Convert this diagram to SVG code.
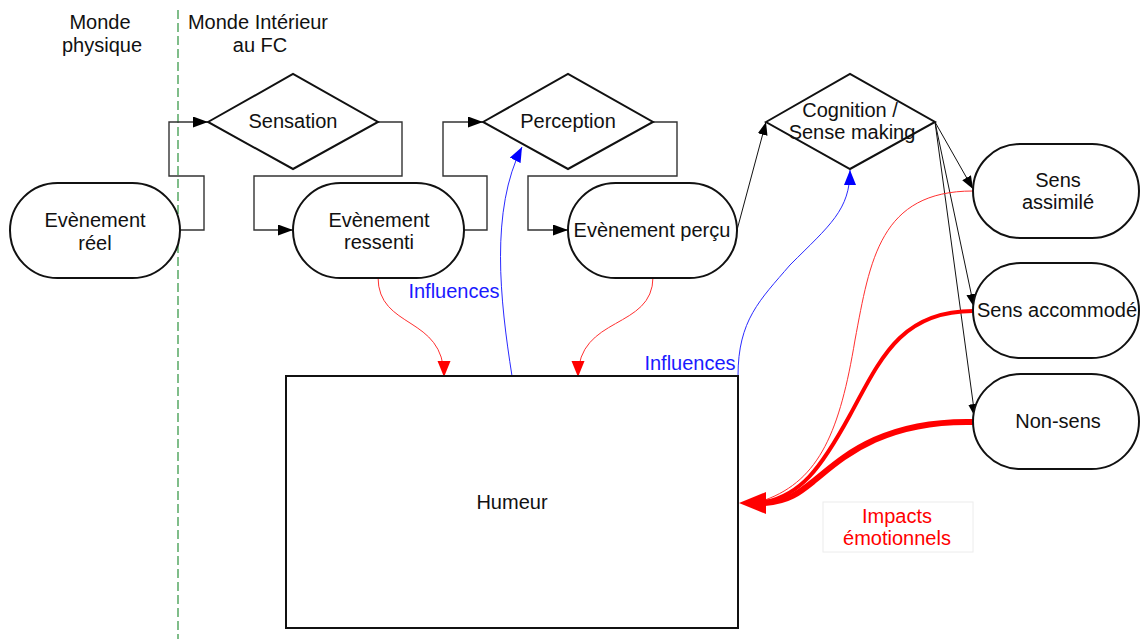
<svg xmlns="http://www.w3.org/2000/svg" width="1141" height="639" viewBox="0 0 1141 639">
<style>
text{font-family:"Liberation Sans",Arial,sans-serif;font-size:20px;fill:#111;text-anchor:middle}
.shape{fill:#fff;stroke:#111;stroke-width:2}
.elbow{fill:none;stroke:#333;stroke-width:1.4}
.thin{fill:none;stroke:#111;stroke-width:1}
.blue{fill:none;stroke:#2a2aff;stroke-width:1}
.red{fill:none;stroke:#ff3030;stroke-width:1}
.redt{fill:none;stroke:#ff0000}
.bl{fill:#1a1aff}
.rd{fill:#ff0000}
</style>
<defs>
<marker id="ab" markerUnits="userSpaceOnUse" markerWidth="16" markerHeight="12" refX="15" refY="5.5" orient="auto"><path d="M0,0 L15,5.5 L0,11 z" fill="#000"/></marker>
<marker id="as" markerUnits="userSpaceOnUse" markerWidth="14" markerHeight="12" refX="13" refY="5" orient="auto"><path d="M0,0 L13,5 L0,10 z" fill="#000"/></marker>
<marker id="ar" markerUnits="userSpaceOnUse" markerWidth="17" markerHeight="14" refX="16" refY="6.5" orient="auto"><path d="M0,0 L16,6.5 L0,13 z" fill="#ff0000"/></marker>
<marker id="abl" markerUnits="userSpaceOnUse" markerWidth="16" markerHeight="13" refX="15" refY="6" orient="auto"><path d="M0,0 L15,6 L0,12 z" fill="#0000ff"/></marker>
</defs>
<rect width="1141" height="639" fill="#fff"/>
<line x1="178" y1="10" x2="178" y2="639" stroke="#3c9a4c" stroke-width="1.3" stroke-dasharray="9,4"/>
<g id="labels">
<text x="100" y="29">Monde</text>
<text x="102" y="52">physique</text>
<text x="258" y="29">Monde Intérieur</text>
<text x="260" y="52">au FC</text>
</g>
<g id="connectors">
<path class="elbow" d="M180,230 H204 V176 H169 V122 H208" marker-end="url(#ab)"/>
<path class="elbow" d="M378,122 H402 V176 H254 V230 H293" marker-end="url(#ab)"/>
<path class="elbow" d="M464,230 H487 V176 H443 V122 H483" marker-end="url(#ab)"/>
<path class="elbow" d="M653,122 H677 V176 H528 V230 H568" marker-end="url(#ab)"/>
<path class="thin" d="M737,230 L766,122" marker-end="url(#as)"/>
<path class="thin" d="M935,122 L973,189" marker-end="url(#as)"/>
<path class="thin" d="M935,122 L974,307" marker-end="url(#as)"/>
<path class="thin" d="M935,122 L975,417" marker-end="url(#as)"/>
<path class="red" d="M378,277 C378,330 444,315 444,377" marker-end="url(#ar)"/>
<path class="red" d="M653,277 C653,330 578,315 578,377" marker-end="url(#ar)"/>
<path class="blue" d="M512,376 C500,300 490,210 522,147" marker-end="url(#abl)"/>
<path class="blue" d="M738,376 C738,320 760,300 790,265 C830,225 850,210 850,170" marker-end="url(#abl)"/>
<path class="red" d="M973,191 C880,191 870,260 855,340 C840,430 820,480 765,500"/>
<path class="redt" stroke-width="4" d="M973,311 C900,311 880,360 850,415 C820,470 800,495 765,502"/>
<path class="redt" stroke-width="6" d="M973,422 C880,420 840,460 815,480 C800,492 790,501 765,503"/>
<path class="rd" d="M739,503 L766,492 L766,514 z"/>
<text class="bl" x="454" y="298">Influences</text>
<text class="bl" x="690" y="370">Influences</text>
</g>
<g id="n-reel"><rect class="shape" x="10" y="183" width="170" height="95" rx="47.5"/><text x="95" y="227">Evènement</text><text x="95" y="250">réel</text></g>
<g id="n-sensation"><polygon class="shape" points="208,122 293,74 378,122 293,169"/><text x="293" y="128">Sensation</text></g>
<g id="n-ressenti"><rect class="shape" x="293" y="183" width="171" height="95" rx="47.5"/><text x="379" y="227">Evènement</text><text x="379" y="249">ressenti</text></g>
<g id="n-perception"><polygon class="shape" points="483,122 568,74 653,122 568,169"/><text x="568" y="128">Perception</text></g>
<g id="n-percu"><rect class="shape" x="568" y="183" width="169" height="95" rx="47.5"/><text x="652" y="237">Evènement perçu</text></g>
<g id="n-cognition"><polygon class="shape" fill-opacity="0" points="766,122 850,74 935,122 850,169"/><text x="850" y="117">Cognition /</text><text x="852" y="139">Sense making</text></g>
<g id="n-assimile"><rect class="shape" x="973" y="144" width="166" height="94" rx="47"/><text x="1058" y="187">Sens</text><text x="1058" y="209">assimilé</text></g>
<g id="n-accommode"><rect class="shape" x="973" y="263" width="166" height="95" rx="47.5"/><text x="1057" y="317">Sens accommodé</text></g>
<g id="n-nonsens"><rect class="shape" x="973" y="374" width="166" height="95" rx="47.5"/><text x="1058" y="428">Non-sens</text></g>
<g id="n-humeur"><rect class="shape" x="286" y="376" width="452" height="252"/><text x="512" y="509">Humeur</text></g>
<g id="impacts"><rect x="823" y="502" width="150" height="50" fill="none" stroke="#ececec" stroke-width="1"/><text class="rd" x="897" y="523">Impacts</text><text class="rd" x="897" y="545">émotionnels</text></g>
</svg>
